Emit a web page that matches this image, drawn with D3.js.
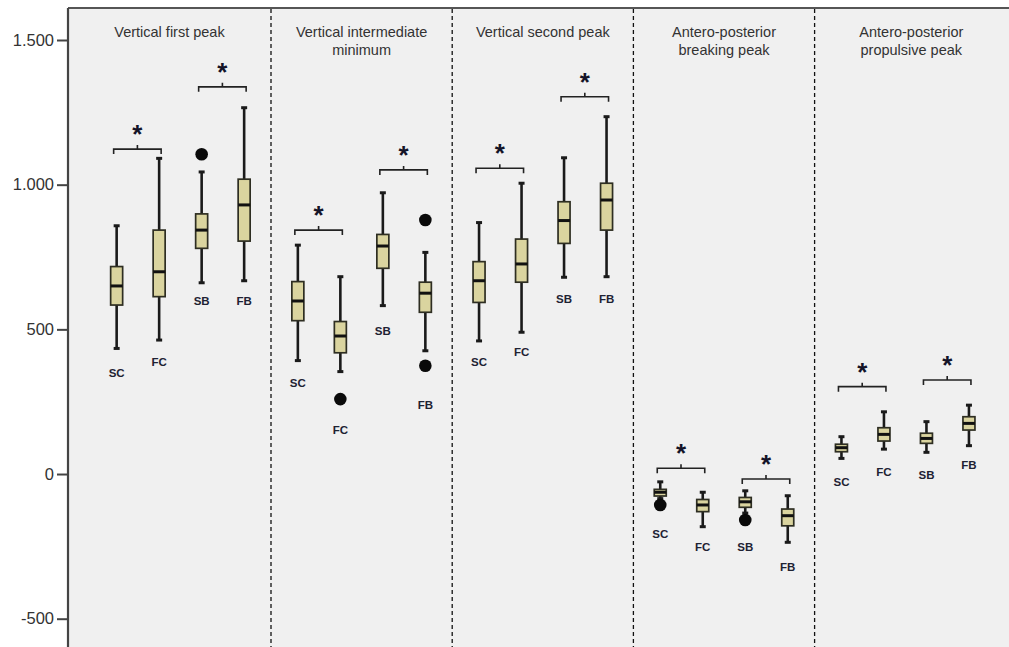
<!DOCTYPE html>
<html>
<head>
<meta charset="utf-8">
<script src="https://cdn.jsdelivr.net/npm/d3@7/dist/d3.min.js"></script>
<style>
  html, body { margin: 0; padding: 0; background: #fff; }
  svg { display: block; }
</style>
</head>
<body>
<svg id="chart" width="1009" height="647"></svg>
<script>
// ---------------- DATA ----------------
const panelTitles = [
  ["Vertical first peak"],
  ["Vertical intermediate", "minimum"],
  ["Vertical second peak"],
  ["Antero-posterior", "breaking peak"],
  ["Antero-posterior", "propulsive peak"]
];
const groups = ["SC", "FC", "SB", "FB"];
const yTicks = [-500, 0, 500, 1000, 1500];
const yTickLabels = ["-500", "0", "500", "1.000", "1.500"];

// per panel, per group (SC, FC, SB, FB)
const whiskerHigh = [
  [858, 1091, 1044, 1266],
  [791, 682, 972, 766],
  [869, 1005, 1093, 1235],
  [-27, -63, -58, -75],
  [129, 215, 181, 238]
];
const q3 = [
  [717, 843, 899, 1019],
  [665, 527, 828, 663],
  [734, 812, 941, 1005],
  [-53, -88, -81, -121],
  [103, 160, 141, 198]
];
const median = [
  [650, 699, 843, 930],
  [598, 477, 788, 625],
  [668, 726, 876, 947],
  [-63, -107, -96, -144],
  [91, 137, 123, 175]
];
const q1 = [
  [584, 613, 780, 805],
  [530, 419, 711, 559],
  [593, 663, 797, 843],
  [-76, -130, -115, -179],
  [77, 114, 106, 152]
];
const whiskerLow = [
  [434, 463, 661, 668],
  [392, 354, 582, 426],
  [460, 490, 680, 682],
  [-85, -182, -135, -236],
  [54, 86, 75, 98]
];
const outliers = [
  [[], [], [1105], []],
  [[], [259], [], [878, 374]],
  [[], [], [], []],
  [[-107], [], [-159], []],
  [[], [], [], []]
];
// value at which each group label is centred
const labelAt = [
  [349, 387, 598, 598],
  [316, 152, 494, 239],
  [388, 423, 607, 607],
  [-207, -251, -251, -320],
  [-27, 8, -3, 31]
];
// significance brackets: [SC-FC level, SB-FB level]
const bracketAt = [
  [1123, 1338],
  [843, 1051],
  [1057, 1304],
  [20, -17],
  [302, 325]
];

// ---------------- LAYOUT ----------------
const W = 1009, H = 647;
const plotLeft = 68, plotRight = 1008, plotTop = 8, plotBottom = 647;
const svg = d3.select("#chart");

const y = d3.scaleLinear().domain([-500, 1500]).range([618.7, 40]);
const panelX = d3.scaleLinear().domain([0, 4]).range([180.4, 180.4 + 4 * 181.2]);
const groupX = d3.scalePoint().domain(groups).range([-63.75, 63.75]);
const cx = (p, g) => panelX(p) + groupX(g);
const boxW = 12;

// plot background
svg.append("rect").attr("x", plotLeft).attr("y", plotTop)
  .attr("width", plotRight - plotLeft + 2).attr("height", plotBottom - plotTop)
  .attr("fill", "#f0f0f0");

// top border
svg.append("line").attr("x1", plotLeft).attr("x2", W).attr("y1", plotTop).attr("y2", plotTop)
  .attr("stroke", "#555").attr("stroke-width", 2);

// panel edges
const edges = [plotLeft];
for (let p = 0; p < 4; p++) edges.push((panelX(p) + panelX(p + 1)) / 2);
edges.push(plotRight);

// dashed dividers
svg.selectAll(".divider").data(edges.slice(1, 5)).enter().append("line")
  .attr("x1", d => d).attr("x2", d => d)
  .attr("y1", plotTop + 1).attr("y2", plotBottom)
  .attr("stroke", "#111").attr("stroke-width", 1.3)
  .attr("stroke-dasharray", "4,3");

// y axis
const yAxis = d3.axisLeft(y).tickValues(yTicks).tickSize(11)
  .tickFormat((d, i) => yTickLabels[i]);
const ax = svg.append("g").attr("transform", `translate(${plotLeft},0)`).call(yAxis);
ax.select(".domain").remove();
ax.append("line").attr("x1", 0).attr("x2", 0).attr("y1", plotTop).attr("y2", plotBottom)
  .attr("stroke", "#444").attr("stroke-width", 2.2);
ax.selectAll(".tick line").attr("stroke", "#444").attr("stroke-width", 2);
ax.selectAll(".tick text")
  .attr("font-family", "Liberation Sans, Arial, sans-serif")
  .attr("font-size", 16.5).attr("fill", "#333").attr("x", -14);

// titles
panelTitles.forEach((lines, p) => {
  const mid = (edges[p] + edges[p + 1]) / 2;
  const t = svg.append("text").attr("text-anchor", "middle")
    .attr("font-family", "Liberation Sans, Arial, sans-serif")
    .attr("font-size", 14.5).attr("fill", "#333");
  lines.forEach((ln, i) => {
    t.append("tspan").attr("x", mid).attr("y", 37 + i * 18).text(ln);
  });
});

// boxes
const items = [];
for (let p = 0; p < 5; p++) {
  groups.forEach((g, j) => {
    items.push({p, g, j,
      lo: whiskerLow[p][j], q1: q1[p][j], med: median[p][j], q3: q3[p][j], hi: whiskerHigh[p][j],
      out: outliers[p][j], lab: labelAt[p][j]});
  });
}

const bx = svg.selectAll(".bx").data(items).enter().append("g")
  .attr("transform", d => `translate(${cx(d.p, d.g)},0)`);

// whisker line
bx.append("line").attr("x1", 0).attr("x2", 0)
  .attr("y1", d => y(d.hi)).attr("y2", d => y(d.lo))
  .attr("stroke", "#1a1a1a").attr("stroke-width", 2.6);
// caps
bx.append("line").attr("x1", -3).attr("x2", 3)
  .attr("y1", d => y(d.hi)).attr("y2", d => y(d.hi))
  .attr("stroke", "#1a1a1a").attr("stroke-width", 3);
bx.append("line").attr("x1", -3).attr("x2", 3)
  .attr("y1", d => y(d.lo)).attr("y2", d => y(d.lo))
  .attr("stroke", "#1a1a1a").attr("stroke-width", 3);
// box
bx.append("rect").attr("x", -boxW / 2).attr("width", boxW)
  .attr("y", d => y(d.q3)).attr("height", d => y(d.q1) - y(d.q3))
  .attr("fill", "#dad49f").attr("stroke", "#2e2e22").attr("stroke-width", 1.7);
// median
bx.append("line").attr("x1", -boxW / 2).attr("x2", boxW / 2)
  .attr("y1", d => y(d.med)).attr("y2", d => y(d.med))
  .attr("stroke", "#111").attr("stroke-width", 3);
// outliers
bx.selectAll(".out").data(d => d.out).enter().append("circle")
  .attr("cx", 0).attr("cy", v => y(v)).attr("r", 6.3).attr("fill", "#0a0a0a");
// labels
bx.append("text").attr("text-anchor", "middle")
  .attr("x", 0).attr("y", d => y(d.lab)).attr("dy", "0.36em")
  .attr("font-family", "Liberation Sans, Arial, sans-serif")
  .attr("font-weight", "bold").attr("font-size", 11.5).attr("fill", "#1e2233")
  .text(d => d.g);

// significance brackets
const br = [];
bracketAt.forEach((pair, p) => {
  br.push({x1: cx(p, "SC") - 3, x2: cx(p, "FC") + 2, v: pair[0]});
  br.push({x1: cx(p, "SB") - 3, x2: cx(p, "FB") + 2, v: pair[1]});
});
const bg = svg.selectAll(".br").data(br).enter().append("g");
bg.append("path")
  .attr("d", d => {
    const yy = y(d.v), m = (d.x1 + d.x2) / 2;
    return `M${d.x1},${yy + 5}V${yy}H${d.x2}V${yy + 5}M${m},${yy}V${yy - 4}`;
  })
  .attr("fill", "none").attr("stroke", "#222").attr("stroke-width", 1.6);
bg.append("text").attr("text-anchor", "middle")
  .attr("x", d => (d.x1 + d.x2) / 2).attr("y", d => y(d.v) - 21 + 15)
  .attr("font-family", "Liberation Sans, Arial, sans-serif")
  .attr("font-weight", "bold").attr("font-size", 26).attr("fill", "#141428")
  .text("*");
</script>
</body>
</html>
